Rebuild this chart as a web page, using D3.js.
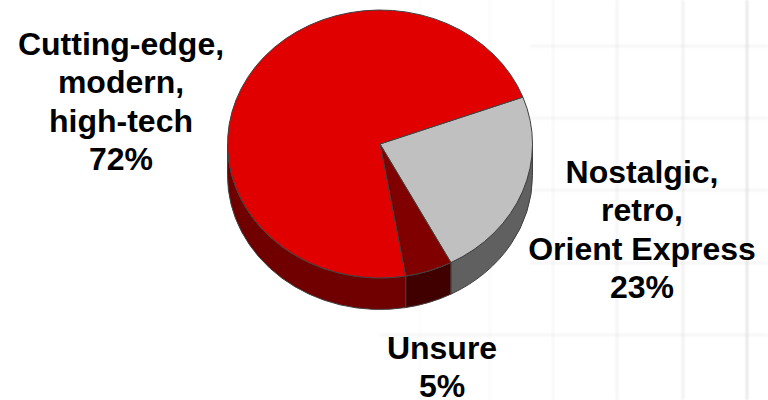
<!DOCTYPE html>
<html>
<head>
<meta charset="utf-8">
<style>html,body{margin:0;padding:0;background:#fff}svg{display:block}text{font-family:"Liberation Sans",Arial,sans-serif;font-weight:bold;fill:#000;font-size:32px;text-anchor:middle}</style>
<script src="https://cdn.jsdelivr.net/npm/d3@7"></script>
</head>
<body>
<script>
const categories = ["Nostalgic, retro, Orient Express", "Unsure", "Cutting-edge, modern, high-tech"];
const values = [23, 5, 72];
const topColors = ["#c0c0c0", "#800000", "#e00000"];
const wallColors = ["#606060", "#400000", "#700000"];
const labelLines = [["Nostalgic,","retro,","Orient Express","23%"],["Unsure","5%"],["Cutting-edge,","modern,","high-tech","72%"]];
const labelX = [642, 442, 121];
const labelY = [183, 359, 55];
const lineStep = 38.4;
const gridX = [420, 490, 553, 617, 683, 747];
const gridXShade = [0.08, 0.14, 0.25, 0.35, 0.45, 0.8];
const gridY = [46, 118, 190, 263, 335];
const gridYStart = [530, 530, 530, 530, 380];

const W = 768, H = 400, cx = 380, cy = 144, rx = 152.5, ry = 134, depth = 31.5;
const startAngle = 69.5 * Math.PI / 180;

const svg = d3.select("body").append("svg").attr("width", W).attr("height", H);
svg.append("defs").append("filter").attr("id", "soft").append("feGaussianBlur").attr("stdDeviation", 1.2);
const grid = svg.append("g").attr("stroke", "#d8d8d8").attr("stroke-width", 2).attr("filter", "url(#soft)");
grid.selectAll("line.v").data(gridX).join("line").attr("class", "v")
  .attr("x1", d => d).attr("x2", d => d).attr("y1", 0).attr("y2", H)
  .attr("stroke-opacity", (d, i) => gridXShade[i]);
grid.selectAll("line.h").data(gridY).join("line").attr("class", "h")
  .attr("y1", d => d).attr("y2", d => d).attr("x1", (d, i) => gridYStart[i]).attr("x2", W)
  .attr("stroke-opacity", 0.3);

const pie = d3.pie().sort(null).value(d => d).startAngle(startAngle).endAngle(startAngle + 2 * Math.PI);
const arcs = pie(values);
const arc = d3.arc().innerRadius(0).outerRadius(1);
const g = svg.append("g").attr("transform", `translate(${cx},${cy}) scale(${rx},${ry})`);
const d0 = depth / ry;
const HALF = Math.PI / 2;

function wallPath(a0, a1) {
  const p = d3.path();
  const s = a0 - HALF, e = a1 - HALF;
  p.moveTo(Math.cos(s), Math.sin(s));
  p.arc(0, 0, 1, s, e, false);
  p.lineTo(Math.cos(e), Math.sin(e) + d0);
  p.arc(0, d0, 1, e, s, true);
  p.closePath();
  return p.toString();
}
// visible wall portion: pie angles between 90° and 270° (front half)
function frontSpan(d) {
  const lo = Math.max(d.startAngle, Math.PI / 2), hi = Math.min(d.endAngle, 1.5 * Math.PI);
  return hi > lo ? [[lo, hi]] : [];
}
const walls = arcs.flatMap((d, i) => frontSpan(d).map(s => ({ s, i })));
g.selectAll("path.wall").data(walls).join("path").attr("class", "wall")
  .attr("d", d => wallPath(d.s[0], d.s[1]))
  .attr("fill", d => wallColors[d.i])
  .attr("stroke", "#404040").attr("stroke-width", 1).attr("vector-effect", "non-scaling-stroke");
g.selectAll("path.top").data(arcs).join("path").attr("class", "top")
  .attr("d", arc)
  .attr("fill", (d, i) => topColors[i])
  .attr("stroke", "#404040").attr("stroke-width", 1).attr("vector-effect", "non-scaling-stroke");

const labels = svg.selectAll("text.lab").data(labelLines).join("text").attr("class", "lab");
labels.selectAll("tspan").data((d, i) => d.map((t, j) => ({ t, j, i }))).join("tspan")
  .attr("x", d => labelX[d.i]).attr("y", d => labelY[d.i] + d.j * lineStep).text(d => d.t);
</script>
</body>
</html>
